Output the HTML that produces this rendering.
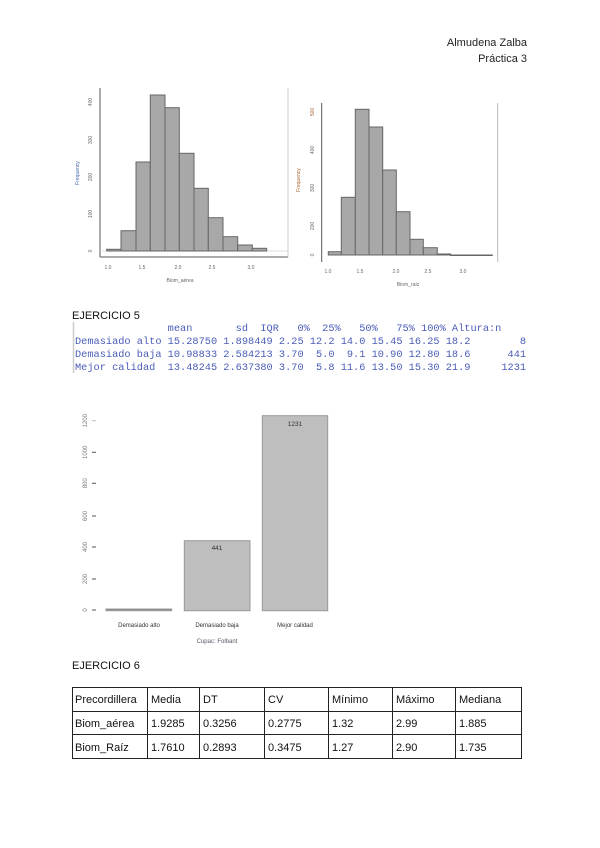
<!DOCTYPE html>
<html><head><meta charset="utf-8"><style>
html,body{margin:0;padding:0;background:#fff;}
svg{display:block;}
.pre{white-space:pre;}
</style></head><body>
<svg width="600" height="848" xmlns="http://www.w3.org/2000/svg" font-family="Liberation Sans, sans-serif">
<rect width="600" height="848" fill="#fff"/>
<text x="527" y="46" font-size="11" text-anchor="end" fill="#222">Almudena Zalba</text>
<text x="527" y="62" font-size="11" text-anchor="end" fill="#222">Práctica 3</text>

<g stroke="#555" stroke-width="1">
<line x1="100" y1="88" x2="100" y2="257"/>
<line x1="100" y1="257" x2="288" y2="257"/>
<line x1="288" y1="88" x2="288" y2="257" stroke="#ccc"/>
<line x1="100" y1="251" x2="288" y2="251" stroke="#ddd"/>
</g>
<g fill="#a8a8a8" stroke="#666" stroke-width="1">
<rect x="106.7" y="249.3" width="14.3" height="1.7"/>
<rect x="121" y="230.7" width="15" height="20.3"/>
<rect x="136" y="162" width="14.3" height="89"/>
<rect x="150.3" y="95" width="14.7" height="156"/>
<rect x="165" y="107.7" width="14.3" height="143.3"/>
<rect x="179.3" y="153.3" width="14.7" height="97.7"/>
<rect x="194" y="188.3" width="14.3" height="62.7"/>
<rect x="208.3" y="217.7" width="14.7" height="33.3"/>
<rect x="223" y="236.7" width="14.7" height="14.3"/>
<rect x="237.7" y="245" width="14.6" height="6"/>
<rect x="252.3" y="248.3" width="14.4" height="2.7"/>
</g>
<g font-size="5" fill="#666" text-anchor="middle">
<text x="108" y="269">1.0</text><text x="142" y="269">1.5</text><text x="178" y="269">2.0</text><text x="212" y="269">2.5</text><text x="251" y="269">3.0</text>
<text x="180" y="282">Biom_aérea</text>
<text transform="translate(92,102) rotate(-90)">400</text>
<text transform="translate(92,140) rotate(-90)">300</text>
<text transform="translate(92,177) rotate(-90)">200</text>
<text transform="translate(92,214) rotate(-90)">100</text>
<text transform="translate(92,251) rotate(-90)">0</text>
<text transform="translate(79,173) rotate(-90)" fill="#46a">Frequency</text>
</g>

<g stroke="#555" stroke-width="1">
<line x1="321.7" y1="103" x2="321.7" y2="262"/>
<line x1="497.7" y1="103" x2="497.7" y2="262" stroke="#bbb"/>
</g>
<g fill="#a8a8a8" stroke="#666" stroke-width="1">
<rect x="328.3" y="251.7" width="13" height="3.3"/>
<rect x="341.3" y="197.3" width="14" height="57.7"/>
<rect x="355.3" y="109.3" width="13.7" height="145.7"/>
<rect x="369" y="127" width="13.7" height="128"/>
<rect x="382.7" y="170" width="13.6" height="85"/>
<rect x="396.3" y="211.7" width="13.7" height="43.3"/>
<rect x="410" y="239.3" width="13.3" height="15.7"/>
<rect x="423.3" y="247.7" width="14" height="7.3"/>
<rect x="437.3" y="254" width="13.4" height="1"/>
<rect x="450.7" y="255" width="41.6" height="0.5"/>
</g>
<g font-size="5" fill="#666" text-anchor="middle">
<text x="328" y="273">1.0</text><text x="360" y="273">1.5</text><text x="396" y="273">2.0</text><text x="428" y="273">2.5</text><text x="463" y="273">3.0</text>
<text x="408" y="286">Biom_raíz</text>
<text transform="translate(314,112) rotate(-90)" fill="#a63">500</text>
<text transform="translate(314,150) rotate(-90)">400</text>
<text transform="translate(314,188) rotate(-90)">300</text>
<text transform="translate(314,226) rotate(-90)">200</text>
<text transform="translate(314,255) rotate(-90)">0</text>
<text transform="translate(300,180) rotate(-90)" fill="#a63">Frequency</text>
</g>

<text x="72" y="319" font-size="11" fill="#111">EJERCICIO 5</text>
<line x1="73.5" y1="322" x2="73.5" y2="373" stroke="#ccc" stroke-width="1.5"/>
<g font-family="Liberation Mono, monospace" font-size="10.3" fill="#4a5cb8">
<text class="pre" x="75" y="331">               mean       sd  IQR   0%  25%   50%   75% 100% Altura:n</text>
<text class="pre" x="75" y="344">Demasiado alto 15.28750 1.898449 2.25 12.2 14.0 15.45 16.25 18.2        8</text>
<text class="pre" x="75" y="357">Demasiado baja 10.98833 2.584213 3.70  5.0  9.1 10.90 12.80 18.6      441</text>
<text class="pre" x="75" y="370">Mejor calidad  13.48245 2.637380 3.70  5.8 11.6 13.50 15.30 21.9     1231</text>
</g>

<g stroke="#555" stroke-width="1">
<line x1="92" y1="420.7" x2="96" y2="420.7" stroke="#bbb"/>
<line x1="92" y1="452.3" x2="96" y2="452.3"/>
<line x1="92" y1="483.3" x2="96" y2="483.3"/>
<line x1="92" y1="516" x2="96" y2="516"/>
<line x1="92" y1="547" x2="96" y2="547"/>
<line x1="92" y1="579" x2="96" y2="579"/>
<line x1="92" y1="610" x2="96" y2="610"/>
</g>
<g font-size="6" fill="#777" text-anchor="middle">
<text transform="translate(87,420.7) rotate(-90)">1200</text>
<text transform="translate(87,452.3) rotate(-90)">1000</text>
<text transform="translate(87,483.3) rotate(-90)">800</text>
<text transform="translate(87,516) rotate(-90)">600</text>
<text transform="translate(87,547) rotate(-90)">400</text>
<text transform="translate(87,579) rotate(-90)">200</text>
<text transform="translate(87,610) rotate(-90)">0</text>
</g>
<g fill="#bebebe" stroke="#999" stroke-width="1">
<rect x="106" y="609" width="65.7" height="1.7" fill="#888"/>
<rect x="184.3" y="540.7" width="65.7" height="70"/>
<rect x="262.3" y="415.7" width="65.4" height="195"/>
</g>
<g font-size="6.5" fill="#333" text-anchor="middle">
<text x="217" y="550">441</text>
<text x="295" y="426">1231</text>
<text x="139" y="627" font-size="6">Demasiado alto</text>
<text x="217" y="627" font-size="6">Demasiado baja</text>
<text x="295" y="627" font-size="6">Mejor calidad</text>
<text x="217" y="643" font-size="6" fill="#556">Cupac: Folbant</text>
</g>

<text x="72" y="669" font-size="11" fill="#111">EJERCICIO 6</text>
<g stroke="#222" stroke-width="1" fill="none">
<rect x="72.5" y="687.5" width="449" height="71"/>
<line x1="72" y1="711.5" x2="522" y2="711.5"/>
<line x1="72" y1="734.5" x2="522" y2="734.5"/>
<line x1="147.5" y1="687" x2="147.5" y2="759"/>
<line x1="199.5" y1="687" x2="199.5" y2="759"/>
<line x1="264.5" y1="687" x2="264.5" y2="759"/>
<line x1="328.5" y1="687" x2="328.5" y2="759"/>
<line x1="392.5" y1="687" x2="392.5" y2="759"/>
<line x1="455.5" y1="687" x2="455.5" y2="759"/>
</g>
<g font-size="11" fill="#111">
<text x="75" y="703">Precordillera</text><text x="151" y="703">Media</text><text x="203" y="703">DT</text><text x="268" y="703">CV</text><text x="332" y="703">Mínimo</text><text x="396" y="703">Máximo</text><text x="459" y="703">Mediana</text>
<text x="75" y="727">Biom_aérea</text><text x="151" y="727">1.9285</text><text x="203" y="727">0.3256</text><text x="268" y="727">0.2775</text><text x="332" y="727">1.32</text><text x="396" y="727">2.99</text><text x="459" y="727">1.885</text>
<text x="75" y="751">Biom_Raíz</text><text x="151" y="751">1.7610</text><text x="203" y="751">0.2893</text><text x="268" y="751">0.3475</text><text x="332" y="751">1.27</text><text x="396" y="751">2.90</text><text x="459" y="751">1.735</text>
</g>
</svg>
</body></html>
